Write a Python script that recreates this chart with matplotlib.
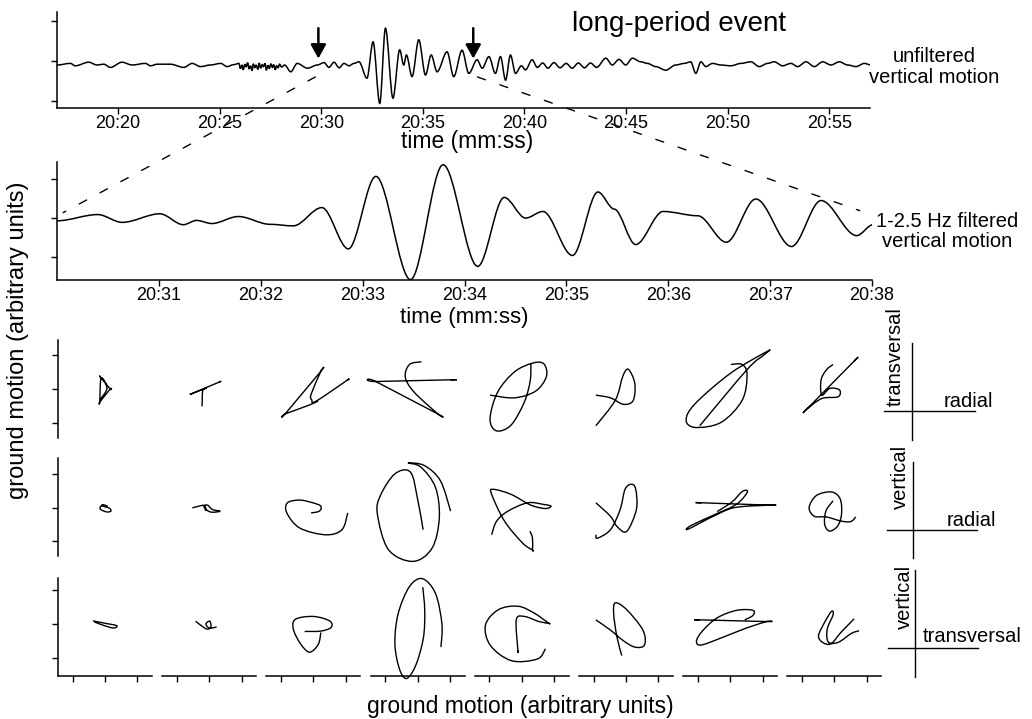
import matplotlib.pyplot as plt
from matplotlib.path import Path
from matplotlib.patches import PathPatch, ConnectionPatch
from matplotlib.lines import Line2D
from matplotlib.ticker import FuncFormatter
import numpy as np

plt.rcParams['font.family'] = ['Liberation Sans', 'DejaVu Sans']

# ---- data ----
# unfiltered vertical trace: extrema (seconds after 20:00, arbitrary units)
quiet_t = [17.0, 17.66, 17.90, 18.56, 18.97, 19.30, 19.63, 20.20, 20.69, 21.35, 21.60,
           21.93, 22.58, 23.24, 23.65, 24.06, 24.55, 25.05, 25.37, 25.70]
quiet_a = [-0.10, -0.06, -0.12, -0.03, -0.10, -0.08, -0.16, -0.03, -0.10, -0.06, -0.12,
           -0.08, -0.08, -0.16, -0.06, -0.14, -0.10, -0.06, -0.14, -0.09]
noise_t = [25.95, 26.02, 26.10, 26.16, 26.24, 26.30, 26.38, 26.45, 26.52, 26.60, 26.66,
           26.74, 26.80, 26.88, 26.95, 27.02, 27.10, 27.16, 27.24, 27.30, 27.38, 27.45,
           27.52, 27.60, 27.66, 27.74, 27.80, 27.88, 27.95, 28.05, 28.20]
noise_a = [-0.06, -0.19, -0.10, -0.22, -0.08, -0.15, -0.04, -0.20, -0.12, -0.24, -0.07,
           -0.17, -0.10, -0.21, -0.05, -0.18, -0.09, -0.14, -0.06, -0.23, -0.11, -0.19,
           -0.07, -0.16, -0.09, -0.22, -0.12, -0.17, -0.08, -0.15, -0.10]
onset_t = [28.50, 28.82, 29.32, 29.81, 30.14, 30.38, 30.63, 30.88, 31.12, 31.37, 31.61, 31.86]
onset_a = [-0.27, -0.06, -0.18, -0.10, -0.04, -0.16, -0.03, -0.17, -0.06, -0.12, -0.06, -0.02]
packet_t = [32.25, 32.55, 32.88, 33.16, 33.53, 33.86, 34.06, 34.19, 34.47, 34.80, 35.13,
            35.41, 35.70, 36.19, 36.52, 36.93, 37.26, 37.67, 37.92, 38.25, 38.57, 38.82,
            39.07, 39.31, 39.56]
packet_a = [-0.43, 0.48, -1.06, 0.82, -0.93, 0.28, -0.10, 0.15, -0.39, 0.53, -0.35,
            0.15, -0.27, 0.23, -0.39, 0.27, -0.31, 0.03, -0.18, 0.11, -0.31, 0.11,
            -0.48, 0.15, -0.31]
coda_t = [39.85, 40.05, 40.38, 40.63, 40.90, 41.15, 41.45, 41.75, 42.05, 42.35, 42.65,
          42.95, 43.25, 43.55, 44.00, 44.32, 44.65, 44.98, 45.31, 45.72, 46.05, 46.46,
          46.95, 47.44, 47.86, 48.18, 48.43, 48.68, 48.92, 49.25, 49.66, 50.15, 50.65,
          51.14, 51.55, 51.96, 52.29, 52.70, 53.11, 53.44, 53.85, 54.26, 54.67, 55.08,
          55.49, 55.90, 56.31, 56.72, 57.05, 57.30]
coda_a = [-0.12, -0.22, 0.03, -0.16, -0.05, -0.18, -0.04, -0.17, -0.06, -0.18, -0.05,
          -0.17, -0.05, -0.16, 0.07, -0.10, 0.04, -0.10, 0.07, -0.02, -0.06, -0.14,
          -0.23, -0.10, -0.06, -0.02, -0.31, -0.02, -0.14, -0.06, -0.10, -0.12, -0.06,
          -0.02, -0.14, -0.06, -0.02, -0.12, -0.06, -0.14, -0.02, -0.14, -0.02, -0.10,
          -0.02, -0.10, -0.14, -0.06, -0.10, -0.27]
top_t = quiet_t + noise_t + onset_t + packet_t + coda_t
top_a = quiet_a + noise_a + onset_a + packet_a + coda_a

# 1-2.5 Hz filtered trace: extrema
mid_t = [30.0, 30.40, 30.64, 31.01, 31.24, 31.37, 31.52, 31.78, 32.09, 32.32, 32.60,
         32.86, 33.13, 33.47, 33.79, 34.13, 34.39, 34.60, 34.77, 35.06, 35.31,
         35.47, 35.68, 35.95, 36.29, 36.57, 36.86, 37.21, 37.50, 37.85, 38.01]
mid_a = [-0.08, 0.08, -0.12, 0.10, -0.18, -0.07, -0.15, 0.03, -0.17, -0.21, 0.26,
         -0.80, 1.06, -1.59, 1.36, -1.25, 0.52, -0.01, 0.16, -0.97, 0.66,
         0.22, -0.69, 0.16, 0.05, -0.63, 0.48, -0.74, 0.44, -0.46, -0.18]

top_ticks = [20, 25, 30, 35, 40, 45, 50, 55]
mid_ticks = [31, 32, 33, 34, 35, 36, 37, 38]
arrow_times = [29.86, 37.48]

# particle motion (x, y) vertices, 8 windows per component pair
# a repeated vertex marks a sharp corner
hodo_trans_radial = [
    [(-1.5, 3.6), (-1.5, 3.6), (1.6, 0.0), (1.6, 0.0), (-1.6, -3.8), (-1.6, -3.8), (-1.2, 3.2), (0.6, 0.2), (-1.4, -3.0)],
    [(3.0, 2.0), (3.0, 2.0), (-5.2, -1.3), (-5.2, -1.3), (-1.0, 0.2), (-2.0, -0.5), (-2.2, -5.1)],
    [(10.3, 2.5), (10.3, 2.5), (0.8, -3.6), (-0.5, -3.2), (-0.7, -1.5), (2.3, 5.2), (2.3, 5.2), (-8.7, -7.3), (-8.7, -7.3), (-1.5, -4.8), (1.5, -3.5)],
    [(10.2, 2.7), (10.2, 2.7), (-12.9, 2.2), (-12.9, 2.2), (6.2, -7.3), (6.2, -7.3), (-1.0, -1.0), (-3.8, 3.5), (-2.5, 7.2), (1.2, 8.0)],
    [(-9.8, -1.8), (-2.3, -2.6), (4.3, -0.6), (7.6, 3.7), (6.8, 7.4), (3.3, 7.6), (-2.3, 5.0), (-7.5, -1.0), (-9.8, -8.8), (-7.8, -12.3), (-3.3, -10.6), (0.8, -3.8), (2.6, 2.5), (2.8, 7.4)],
    [(-9.3, -1.8), (-4.8, -2.6), (-0.8, -4.5), (2.2, -3.4), (2.7, 1.7), (0.7, 5.8), (-1.0, 3.7), (-3.3, -3.3), (-9.3, -10.8)],
    [(0.2, 7.2), (3.7, 7.2), (5.2, 4.2), (3.7, -3.3), (-2.8, -9.8), (-10.8, -11.3), (-13.6, -9.1), (-10.8, -4.3), (0.2, 4.7), (11.7, 11.2), (10.4, 10.0), (5.2, 5.7), (-9.4, -10.8)],
    [(6.1, 8.2), (6.1, 8.2), (-8.4, -5.8), (-8.4, -5.8), (-3.9, -2.8), (1.1, -2.3), (1.6, -0.3), (-1.4, 0.2), (-3.9, -1.8), (-4.1, 2.7), (-2.4, 5.7), (-0.4, 7.2)],
]
hodo_vert_radial = [
    [(-1.2, 0.6), (0.0, 0.2), (1.4, -0.2), (1.8, -1.1), (0.4, -1.3), (-1.5, -0.4), (-0.8, 0.8), (0.8, 0.4)],
    [(-5.2, -0.1), (-3.2, 0.4), (-1.5, 0.6), (-0.7, -0.8), (0.9, -1.4), (3.4, -1.1), (1.0, -0.6), (-0.5, 0.7), (-1.6, 0.4), (-1.0, -1.0)],
    [(-0.7, -1.6), (1.8, -1.1), (2.3, 0.4), (-0.2, 1.4), (-4.2, 2.2), (-8.0, 1.4), (-8.2, -1.6), (-4.2, -6.1), (3.8, -8.1), (8.8, -6.6), (10.6, -1.6)],
    [(1.7, -6.6), (0.0, 2.5), (-2.2, 10.5), (-7.0, 10.0), (-11.5, 3.5), (-12.4, -2.0), (-9.0, -12.5), (-1.4, -16.0), (4.5, -12.0), (6.7, -3.0), (5.5, 6.0), (1.0, 12.0), (-3.0, 13.2), (2.0, 12.5), (7.0, 8.0), (10.2, -1.1)],
    [(-9.3, -8.1), (-7.8, -4.1), (-4.3, -1.1), (1.8, 1.4), (6.8, 0.9), (9.0, 0.4), (7.3, -0.3), (2.8, 0.7), (-3.3, 3.9), (-8.8, 5.4), (-9.3, 3.9), (-5.3, -4.1), (0.3, -10.6), (3.3, -12.6), (3.3, -12.6), (3.3, -9.1), (2.5, -7.0)],
    [(-9.3, 1.4), (-4.8, -2.6), (-2.8, -5.6), (0.2, -7.1), (3.2, -0.6), (3.0, 5.4), (1.7, 6.9), (-0.3, 5.4), (-1.8, -0.6), (-4.8, -6.6), (-8.8, -9.1), (-9.3, -8.1)],
    [(-8.9, 1.4), (-8.9, 1.4), (12.2, 0.7), (12.2, 0.7), (1.5, 0.0), (-5.0, -2.5), (-12.9, -6.4), (-12.2, -5.4), (-5.0, -2.2), (2.0, 1.0), (5.3, 4.6), (3.8, 4.8), (0.5, 1.6), (-4.0, -1.2)],
    [(-0.4, 2.0), (-2.6, -1.0), (-3.0, -5.0), (-1.5, -7.0), (1.0, -5.5), (2.2, -2.0), (1.8, 2.5), (-0.8, 4.6), (-5.5, 3.6), (-7.8, 0.0), (-6.2, -2.6), (-2.5, -2.8), (2.0, -4.0), (5.0, -4.2), (6.6, -2.8)],
]
hodo_vert_trans = [
    [(-3.7, 0.9), (0.0, 0.2), (3.6, -0.5), (2.6, -1.2), (-0.5, -0.4), (-3.3, 0.6)],
    [(-4.2, 0.8), (-2.3, -0.6), (-0.7, -1.5), (0.5, -1.0), (0.2, 0.8), (-1.0, 0.0), (0.0, -1.2), (2.3, -0.9)],
    [(-2.7, -2.2), (2.3, -2.1), (5.5, -1.0), (5.0, 0.9), (0.0, 2.2), (-5.5, 1.4), (-6.2, -1.5), (-4.0, -5.8), (-1.2, -8.3), (1.5, -6.0), (2.3, -2.5)],
    [(7.2, -6.8), (7.5, 0.0), (5.5, 9.0), (1.5, 13.3), (-2.5, 11.0), (-6.0, 3.0), (-7.0, -6.0), (-5.5, -13.5), (-3.3, -16.0), (-0.5, -12.0), (1.8, -4.0), (2.2, 4.0), (1.6, 10.8)],
    [(-1.2, -7.8), (-1.2, -7.8), (-1.7, 1.2), (0.8, 2.2), (5.3, 0.7), (8.3, 0.2), (8.3, 0.2), (3.8, 3.2), (-1.2, 5.2), (-7.2, 4.2), (-11.2, -0.3), (-9.7, -6.3), (-3.2, -10.8), (4.8, -10.3), (7.3, -7.3)],
    [(-9.3, 1.2), (-4.8, -1.8), (-1.0, -4.8), (2.7, -6.8), (5.7, -6.2), (5.2, -1.8), (0.2, 4.2), (-3.3, 6.2), (-3.8, 3.0), (-2.8, -3.8), (-1.3, -9.3)],
    [(-9.4, 1.2), (-9.4, 1.2), (11.2, 0.7), (11.2, 0.7), (5.0, -1.2), (-3.0, -4.2), (-9.0, -6.2), (-10.4, -5.0), (-8.5, -2.0), (-4.0, 1.8), (2.0, 4.0), (7.0, 4.0), (7.0, 2.5), (4.5, 1.2)],
    [(6.1, 1.5), (2.0, -2.5), (-1.0, -5.8), (-3.5, -5.5), (-4.9, -3.5), (-3.0, 0.5), (-0.9, 3.7), (-0.4, 2.7), (-2.2, -1.5), (-1.9, -5.3), (1.2, -5.4), (5.2, -2.8), (7.6, -2.0)],
]
hodo_rows = [hodo_trans_radial, hodo_vert_radial, hodo_vert_trans]
hodo_axis_names = [('transversal', 'radial'), ('vertical', 'radial'), ('vertical', 'transversal')]

# ---- helpers ----
W, H = 1032, 719


def box(left, top, width, height):
    return [left / W, 1 - (top + height) / H, width / W, height / H]


def fx(x):
    return x / W


def fy(y):
    return 1 - y / H


def wave_path(t, a):
    # smooth curve through extrema, flat at each extremum
    verts = [(t[0], a[0])]
    codes = [Path.MOVETO]
    for i in range(1, len(t)):
        d = (t[i] - t[i - 1]) / 3
        verts += [(t[i - 1] + d, a[i - 1]), (t[i] - d, a[i]), (t[i], a[i])]
        codes += [Path.CURVE4] * 3
    return Path(verts, codes)


def loop_path(pts):
    # Catmull-Rom curve through the vertices
    p = np.array(pts, float)
    ext = np.vstack([p[0], p, p[-1]])
    verts = [tuple(p[0])]
    codes = [Path.MOVETO]
    for i in range(1, len(ext) - 2):
        p0, p1, p2, p3 = ext[i - 1], ext[i], ext[i + 1], ext[i + 2]
        verts += [tuple(p1 + (p2 - p0) / 6), tuple(p2 - (p3 - p1) / 6), tuple(p2)]
        codes += [Path.CURVE4] * 3
    return Path(verts, codes)


def style_axes(ax, left=True, bottom=True):
    for s in ['top', 'right']:
        ax.spines[s].set_visible(False)
    ax.spines['left'].set_visible(left)
    ax.spines['bottom'].set_visible(bottom)
    for s in ['left', 'bottom']:
        ax.spines[s].set_linewidth(1.1)
    ax.patch.set_alpha(0)


fig = plt.figure(figsize=(W / 100, H / 100), dpi=100)
mmss = FuncFormatter(lambda v, pos: f"20:{int(round(v)):02d}")

# ---- top panel: unfiltered ----
ax_top = fig.add_axes(box(57, 12, 813, 96))
style_axes(ax_top)
ax_top.add_patch(PathPatch(wave_path(top_t, top_a), fill=False, lw=1.1, ec='black'))
ax_top.set_xlim(17, 57)
ax_top.set_ylim(-1.175, 1.225)
ax_top.set_xticks(top_ticks)
ax_top.xaxis.set_major_formatter(mmss)
ax_top.set_yticks([-1, 0, 1])
ax_top.set_yticklabels([])
ax_top.tick_params(axis='x', length=4, width=1, pad=1, labelsize=13)
ax_top.tick_params(axis='y', length=4, width=1)
for t in arrow_times:
    ax_top.annotate('', xy=(t, 0.06), xytext=(t, 0.82),
                    arrowprops=dict(arrowstyle='-|>,head_length=0.4,head_width=0.22',
                                    lw=1.8, color='black', mutation_scale=21,
                                    shrinkA=0, shrinkB=0))

# ---- middle panel: filtered ----
ax_mid = fig.add_axes(box(57, 162, 815, 118))
style_axes(ax_mid)
ax_mid.add_patch(PathPatch(wave_path(mid_t, mid_a), fill=False, lw=1.1, ec='black'))
ax_mid.set_xlim(30, 38)
ax_mid.set_ylim(-1.6, 1.43)
ax_mid.set_xticks(mid_ticks)
ax_mid.xaxis.set_major_formatter(mmss)
ax_mid.set_yticks([-1, 0, 1])
ax_mid.set_yticklabels([])
ax_mid.tick_params(axis='x', length=4, width=1, pad=1, labelsize=13)
ax_mid.tick_params(axis='y', length=4, width=1)

# zoom lines
for (ta, tb) in [(29.71, 30.06), (37.69, 37.88)]:
    ya, yb = -0.4, (0.13 if tb < 35 else 0.18)
    cp = ConnectionPatch(xyA=(ta, ya), coordsA=ax_top.transData,
                         xyB=(tb, yb), coordsB=ax_mid.transData,
                         linestyle=(0, (6, 11)), lw=1.0, color='black')
    fig.add_artist(cp)

# ---- particle motion grid ----
row_tops = [340, 458, 578]
row_ylims = [(-14.4, 14.4), (-14.4, 14.7), (-15.3, 13.5)]
for r in range(3):
    for c in range(8):
        ax = fig.add_axes(box(58 + 104.2 * c, row_tops[r], 94, 98))
        style_axes(ax, left=(c == 0), bottom=(r == 2))
        ax.add_patch(PathPatch(loop_path(hodo_rows[r][c]), fill=False, lw=1.0,
                               ec='black', clip_on=False))
        ax.set_xlim(-14.5, 14.5)
        ax.set_ylim(*row_ylims[r])
        ax.set_xticks([-10, 0, 10] if r == 2 else [])
        ax.set_yticks([-10, 0, 10] if c == 0 else [])
        ax.set_xticklabels([])
        ax.set_yticklabels([])
        ax.tick_params(length=4, width=1)

# component crosses on the right
cross_pos = [  # x of vertical bar, its top/bottom, y of horizontal bar, its left/right
    (912, 343, 440, 411, 884, 975),
    (913, 462, 558, 530, 887, 977),
    (915, 570, 677, 648, 888, 978),
]
label_pos = [((895, 357), (968, 402)), ((900, 477), (971, 520)), ((904, 597), (972, 637))]
for (vx, vt, vb, hy, hl, hr), (vname, hname), ((lx, ly), (rx, ry)) in zip(cross_pos, hodo_axis_names, label_pos):
    fig.add_artist(Line2D([fx(vx), fx(vx)], [fy(vt), fy(vb)], lw=1.0, color='black'))
    fig.add_artist(Line2D([fx(hl), fx(hr)], [fy(hy), fy(hy)], lw=1.0, color='black'))
    fig.text(fx(lx), fy(ly), vname, rotation=90, ha='center', va='center', fontsize=14.5)
    fig.text(fx(rx), fy(ry), hname, ha='center', va='center', fontsize=14.5)

# ---- texts ----
fig.text(fx(679), fy(31), 'long-period event', ha='center', va='baseline', fontsize=20)
fig.text(fx(934), fy(62), 'unfiltered', ha='center', va='baseline', fontsize=14.5)
fig.text(fx(934), fy(83), 'vertical motion', ha='center', va='baseline', fontsize=14.5)
fig.text(fx(947), fy(227), '1-2.5 Hz filtered', ha='center', va='baseline', fontsize=14.5)
fig.text(fx(947), fy(247), 'vertical motion', ha='center', va='baseline', fontsize=14.5)
fig.text(fx(467), fy(148), 'time (mm:ss)', ha='center', va='baseline', fontsize=16.5)
fig.text(fx(464), fy(323), 'time (mm:ss)', ha='center', va='baseline', fontsize=16)
fig.text(fx(520), fy(713), 'ground motion (arbitrary units)', ha='center', va='baseline', fontsize=16.5)
fig.text(fx(18), fy(340), 'ground motion (arbitrary units)', rotation=90,
         ha='center', va='center', fontsize=17)

fig.savefig('out.png', dpi=100)
